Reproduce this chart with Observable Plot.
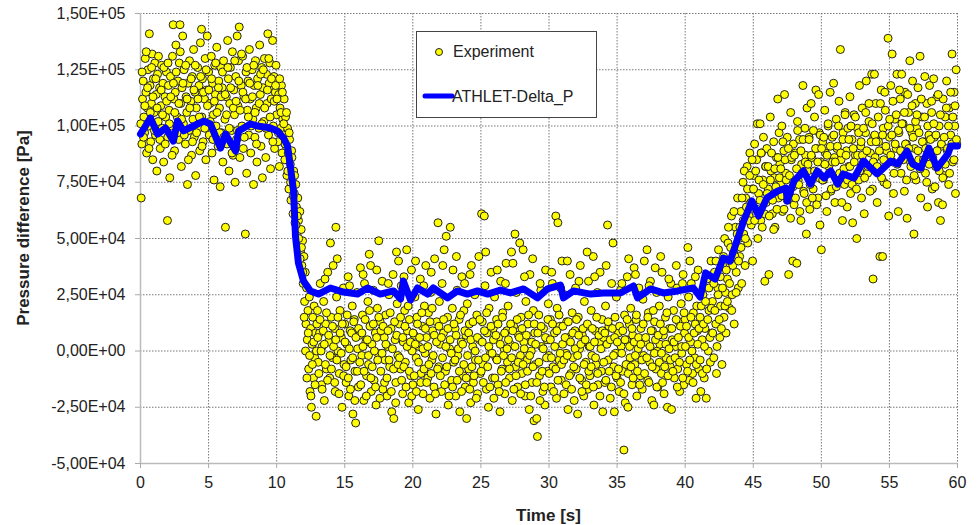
<!DOCTYPE html>
<html><head><meta charset="utf-8">
<script src="https://cdn.jsdelivr.net/npm/d3@7"></script>
<script src="https://cdn.jsdelivr.net/npm/@observablehq/plot@0.6"></script>
<style>body{margin:0;background:#fff;font-family:"Liberation Sans",Arial,sans-serif}</style>
</head><body><div id="chart"></div>
<script>
// Experiment: [time s, pressure difference kPa]
const experiment = [
[0.05,68],[0.1,92],[0.15,112],[0.2,120],[0.25,104],[0.3,97],[0.35,130],[0.4,115],[0.45,88],[0.5,108],
[0.55,125],[0.6,100],[0.65,141],[0.7,118],[0.75,93],[0.8,110],[0.85,132],[0.9,85],[0.95,121],
[1.0,106],[1.05,128],[1.1,96],[1.15,114],[1.2,80],[1.25,123],[1.3,102],[1.4,117],[1.45,90],
[1.5,109],[1.55,127],[1.6,99],[1.65,119],[1.7,84],[1.8,113],[1.85,104],[1.9,124],[1.98,58],
[2.0,95],[2.05,118],[2.1,107],[2.15,77],[2.2,122],[2.3,100],[2.35,131],[2.4,145],[2.45,112],
[2.5,89],[2.55,115],[2.6,136],[2.7,104],[2.75,120],[2.8,94],[2.85,128],[2.9,145],[2.95,110],
[3.0,82],[3.05,117],[3.1,140],[3.15,101],[3.2,125],[3.3,92],[3.35,113],[3.4,106],[3.45,74],
[3.5,119],[3.55,98],[3.6,129],[3.7,111],[3.75,87],[3.8,122],[3.85,103],[3.9,134],[3.95,95],
[4.0,115],[4.05,78],[4.1,108],[4.2,126],[4.25,99],[4.3,118],[4.35,89],[4.4,137],[4.48,143],
[4.5,104],[4.55,121],[4.6,93],[4.7,112],[4.75,130],[4.8,85],[4.85,116],[4.9,140],[4.95,101],
[5.0,124],[5.05,96],[5.1,110],[5.2,131],[5.25,88],[5.3,119],[5.35,105],[5.4,76],[5.45,127],
[5.5,114],[5.55,100],[5.6,135],[5.7,91],[5.75,120],[5.8,108],[5.85,73],[5.9,126],[5.95,97],
[6.0,117],[6.05,84],[6.1,129],[6.2,103],[6.24,55],[6.3,113],[6.35,92],[6.4,138],[6.45,121],
[6.5,80],[6.55,110],[6.6,126],[6.7,98],[6.75,133],[6.8,87],[6.85,116],[6.9,105],[6.95,75],
[7.0,122],[7.05,94],[7.1,140],[7.15,109],[7.2,129],[7.25,144],[7.3,86],[7.4,118],[7.45,100],
[7.5,131],[7.55,90],[7.6,113],[7.7,52],[7.75,124],[7.8,79],[7.85,107],[7.9,120],[7.95,96],
[8.0,134],[8.05,112],[8.1,88],[8.2,125],[8.25,103],[8.3,74],[8.35,118],[8.4,95],[8.45,129],
[8.5,108],[8.55,84],[8.6,121],[8.7,99],[8.75,136],[8.8,114],[8.85,91],[8.9,126],[8.95,77],
[9.0,117],[9.05,102],[9.1,130],[9.2,86],[9.25,123],[9.3,110],[9.35,141],[9.4,96],[9.45,119],
[9.5,128],[9.55,81],[9.6,112],[9.7,138],[9.75,100],[9.8,122],[9.85,90],[9.9,115],[9.95,127],
[10.0,105],[10.05,120],[10.1,93],[10.15,114],[10.2,82],[10.25,108],[10.3,99],[10.35,118],[10.4,88],[10.45,103],
[10.5,96],[10.55,112],[10.6,85],[10.65,104],[10.7,91],[10.75,78],[10.8,99],[10.85,88],[10.9,72],[10.95,94],
[11.0,83],[11.05,67],[11.1,89],[11.15,76],[11.2,61],[11.25,80],[11.3,70],[11.35,57],[11.4,74],[11.45,64],
[11.5,52],[11.55,68],[11.6,58],[11.65,47],[11.7,62],[11.75,44],[11.8,54],[11.85,38],[11.9,49],[11.95,30],
[12.0,42],[12.05,22],[12.1,35],[12.15,12],[12.2,28],[12.25,5],[12.3,18],[12.35,-8],[12.4,24],[12.45,-18],
[12.5,10],[12.55,-25],[12.6,3],[12.65,15],[12.7,-12],[12.75,20],[12.8,-3],[12.85,8],[12.9,-29],[12.95,12],
[13.0,18],[13.05,-5],[13.15,8],[13.2,30],[13.3,-15],[13.35,2],[13.45,22],[13.5,-22],[13.6,12],[13.65,-8],[13.75,35],[13.8,4],[13.9,-12],[13.95,48],
[14.0,15],[14.1,-3],[14.15,38],[14.25,10],[14.3,-18],[14.35,55],[14.4,24],[14.5,0],[14.6,-10],[14.65,18],[14.75,6],[14.8,-25],[14.9,28],[14.95,-6],
[15.0,12],[15.1,-14],[15.15,3],[15.25,33],[15.3,-20],[15.4,9],[15.45,-4],[15.55,20],[15.6,-28],[15.7,14],[15.75,-9],[15.8,-32],[15.9,26],[15.95,1],
[16.0,-16],[16.1,7],[16.15,37],[16.25,-2],[16.3,16],[16.4,-22],[16.45,30],[16.55,4],[16.6,-11],[16.7,22],[16.75,-6],[16.85,11],[16.9,38],[16.95,-18],
[17.0,3],[17.1,27],[17.15,-13],[17.25,8],[17.3,-24],[17.4,19],[17.45,-1],[17.5,49],[17.6,13],[17.65,-9],[17.75,31],[17.8,-17],[17.9,6],[17.95,-4],
[18.0,16],[18.1,-20],[18.15,2],[18.25,25],[18.3,-7],[18.4,10],[18.45,-27],[18.55,34],[18.6,-30],[18.7,5],[18.75,-14],[18.85,21],[18.9,-2],[18.95,40],
[19.0,12],[19.1,-8],[19.15,29],[19.25,-19],[19.3,4],[19.4,18],[19.45,-5],[19.55,45],[19.6,9],[19.7,-23],[19.75,14],[19.85,-11],[19.9,36],[19.95,0],
[20.0,-15],[20.1,7],[20.15,24],[20.25,-3],[20.3,15],[20.4,-26],[20.45,2],[20.55,32],[20.6,-10],[20.7,11],[20.75,-19],[20.85,20],[20.9,-1],[20.95,38],
[21.0,6],[21.1,-12],[21.15,17],[21.25,-21],[21.3,26],[21.4,-4],[21.45,9],[21.55,-16],[21.6,41],[21.7,-28],[21.75,13],[21.85,57],[21.9,-7],[21.95,22],
[22.0,3],[22.1,-18],[22.15,30],[22.25,8],[22.3,45],[22.4,-9],[22.45,51],[22.55,15],[22.6,-24],[22.7,1],[22.75,55],[22.85,-13],[22.9,19],[22.95,36],
[23.0,-5],[23.1,10],[23.15,-20],[23.25,27],[23.3,-2],[23.4,14],[23.45,-27],[23.55,4],[23.6,33],[23.7,-11],[23.75,18],[23.85,-16],[23.9,7],[23.95,-30],
[24.0,21],[24.1,-8],[24.15,12],[24.25,-23],[24.3,38],[24.4,2],[24.45,-14],[24.55,25],[24.6,-4],[24.7,16],[24.75,-19],[24.85,42],[24.9,5],[24.95,-10],
[25.05,61],[25.1,13],[25.15,-6],[25.25,60],[25.3,29],[25.4,-17],[25.45,8],[25.55,-25],[25.6,19],[25.7,-1],[25.75,35],[25.85,-12],[25.9,10],[25.95,-21],
[26.0,24],[26.1,-3],[26.15,14],[26.25,-15],[26.3,6],[26.4,-27],[26.45,31],[26.55,-8],[26.6,17],[26.7,1],[26.75,-19],[26.85,39],[26.9,9],[26.95,-5],
[27.0,20],[27.1,-12],[27.15,3],[27.25,44],[27.3,-22],[27.4,11],[27.5,52],[27.55,-7],[27.6,26],[27.7,-16],[27.75,7],[27.85,48],[27.9,-2],[27.95,15],
[28.0,-10],[28.1,45],[28.15,4],[28.25,-20],[28.3,22],[28.4,-4],[28.45,12],[28.55,-26],[28.6,34],[28.7,0],[28.75,-14],[28.85,18],[28.9,-31],[28.95,8],
[29.0,-6],[29.1,-30],[29.15,-38],[29.25,16],[29.3,-11],[29.4,27],[29.45,2],[29.55,-18],[29.6,10],[29.7,-24],[29.75,36],[29.85,5],[29.9,-9],[29.95,21],
[30.0,-2],[30.1,14],[30.15,-16],[30.25,30],[30.3,-7],[30.4,8],[30.5,60],[30.55,-21],[30.6,19],[30.65,57],[30.75,-4],[30.8,11],[30.9,-13],[30.95,40],
[31.0,3],[31.1,-19],[31.15,25],[31.25,-1],[31.3,13],[31.4,-26],[31.45,6],[31.55,34],[31.6,-10],[31.7,17],[31.75,-3],[31.85,-22],[31.9,9],[31.95,28],
[32.0,-8],[32.1,-28],[32.15,15],[32.25,1],[32.3,38],[32.4,-13],[32.45,7],[32.55,-20],[32.6,22],[32.7,-5],[32.75,11],[32.85,-17],[32.9,31],[32.95,2],
[33.0,-11],[33.1,18],[33.15,-2],[33.25,42],[33.3,-24],[33.4,9],[33.45,-6],[33.55,26],[33.6,-15],[33.7,4],[33.75,35],[33.85,-9],[33.9,14],[33.95,-27],
[34.0,6],[34.1,-14],[34.15,20],[34.3,56],[34.35,-4],[34.4,11],[34.5,-21],[34.6,30],[34.7,48],[34.75,-7],[34.8,-27],[34.85,15],[34.9,-1],[34.95,24],
[35.0,-12],[35.1,8],[35.15,-18],[35.25,27],[35.3,2],[35.4,-9],[35.5,-44],[35.55,16],[35.6,-23],[35.7,5],[35.75,33],[35.8,-25],[35.9,12],[35.95,-3],
[36.0,19],[36.1,-15],[36.15,7],[36.25,37],[36.3,-6],[36.4,14],[36.45,-20],[36.55,1],[36.6,28],[36.7,-11],[36.75,10],[36.85,-17],[36.9,23],[36.95,-2],
[37.0,40],[37.1,4],[37.2,45],[37.25,-13],[37.3,17],[37.4,-5],[37.45,31],[37.55,-22],[37.6,9],[37.7,-24],[37.75,13],[37.85,-8],[37.9,26],[37.95,0],
[38.0,-16],[38.1,20],[38.15,3],[38.25,-10],[38.3,35],[38.4,7],[38.45,-19],[38.55,15],[38.6,-3],[38.7,-25],[38.75,24],[38.85,10],[38.9,-7],[38.95,30],
[39.0,-26],[39.05,5],[39.15,18],[39.2,-12],[39.3,2],[39.4,28],[39.45,-8],[39.55,13],[39.6,-18],[39.7,21],[39.75,-1],[39.85,34],[39.9,-15],[39.95,8],
[40.0,14],[40.1,-6],[40.2,46],[40.25,24],[40.3,-13],[40.4,4],[40.45,30],[40.55,-10],[40.6,17],[40.7,-3],[40.8,-21],[40.85,20],[40.9,9],[40.95,36],
[41.0,-8],[41.1,15],[41.15,-18],[41.25,5],[41.3,25],[41.4,-12],[41.45,10],[41.55,-21],[41.6,32],[41.7,0],[41.75,18],[41.85,-5],[41.9,40],[41.95,8],
[42.0,22],[42.1,-3],[42.15,35],[42.25,12],[42.3,-10],[42.4,28],[42.45,45],[42.55,6],[42.6,20],[42.7,-6],[42.75,38],[42.85,15],[42.9,50],[42.95,26],
[43.0,8],[43.1,32],[43.15,48],[43.25,19],[43.3,40],[43.4,60],[43.45,25],[43.55,44],[43.6,12],[43.7,55],[43.75,35],[43.85,68],[43.9,28],[43.95,50],
[44.0,42],[44.1,62],[44.15,30],[44.25,75],[44.3,52],[44.4,38],[44.45,68],[44.55,82],[44.6,48],[44.7,60],[44.75,88],[44.85,56],[44.9,72],[44.95,40],
[45.0,78],[45.1,92],[45.15,63],[45.25,85],[45.3,101],[45.4,70],[45.5,101],[45.55,58],[45.6,88],[45.7,76],[45.75,95],[45.85,31],[45.9,82],[45.95,66],
[46.0,90],[46.1,72],[46.15,34],[46.25,104],[46.3,80],[46.4,61],[46.5,93],[46.55,77],[46.6,55],[46.7,86],[46.8,112],[46.85,68],[46.9,97],[46.95,83],
[47.0,74],[47.1,100],[47.15,62],[47.25,89],[47.3,114],[47.4,79],[47.5,95],[47.6,34],[47.65,70],[47.75,106],[47.8,85],[47.9,40],[47.95,92],
[48.0,65],[48.1,88],[48.2,39],[48.25,102],[48.3,76],[48.4,94],[48.5,58],[48.55,83],[48.65,118],[48.7,71],[48.8,99],[48.85,87],[48.9,52],[48.95,108],
[49.0,80],[49.1,95],[49.15,63],[49.25,110],[49.3,86],[49.4,72],[49.5,104],[49.6,116],[49.65,90],[49.75,68],[49.8,114],[49.85,97],[49.9,56],[49.95,84],
[50.0,45],[50.1,93],[50.15,76],[50.25,107],[50.3,88],[50.4,62],[50.5,100],[50.55,82],[50.65,115],[50.7,71],[50.8,95],[50.9,119],[50.95,86],
[51.0,66],[51.1,103],[51.15,90],[51.25,78],[51.3,111],[51.4,134],[51.45,85],[51.55,58],[51.6,97],[51.7,74],[51.75,106],[51.85,89],[51.9,64],[51.95,99],
[52.0,82],[52.1,113],[52.15,70],[52.25,94],[52.3,57],[52.4,105],[52.5,87],[52.6,50],[52.65,99],[52.75,76],[52.8,118],[52.9,91],[52.95,68],
[53.0,108],[53.1,84],[53.15,61],[53.25,97],[53.3,120],[53.4,79],[53.5,102],[53.6,88],[53.7,123],[53.75,72],[53.8,32],[53.85,95],[53.9,123],[53.95,86],
[54.0,110],[54.1,66],[54.2,93],[54.3,42],[54.35,81],[54.4,116],[54.5,42],[54.55,99],[54.6,75],[54.7,107],[54.8,89],[54.9,139],[54.95,60],
[55.0,95],[55.1,118],[55.2,132],[55.25,84],[55.3,70],[55.4,103],[55.5,90],[55.55,123],[55.65,62],[55.7,97],[55.8,112],[55.85,79],[55.9,123],[55.95,88],
[56.0,101],[56.1,71],[56.15,115],[56.25,92],[56.3,59],[56.4,106],[56.5,129],[56.55,84],[56.65,97],[56.7,120],[56.8,52],[56.85,90],[56.9,110],[56.95,76],
[57.0,99],[57.1,117],[57.15,85],[57.25,131],[57.3,68],[57.4,104],[57.5,93],[57.6,122],[57.65,79],[57.75,110],[57.8,64],[57.9,96],[57.95,118],
[58.0,87],[58.1,106],[58.15,72],[58.25,121],[58.3,95],[58.4,82],[58.5,113],[58.6,66],[58.65,100],[58.75,58],[58.8,91],[58.9,65],[58.95,112],
[59.0,78],[59.1,104],[59.2,120],[59.25,89],[59.35,74],[59.4,108],[59.5,96],[59.6,132],[59.65,84],[59.75,115],[59.8,100],[59.85,70],[59.9,125],[59.95,92]
];

// Experiment, further samples read from the denser parts of the cloud: [time s, kPa]
const experimentDense = [
[0.02,101],[0.12,124],[0.22,95],[0.32,109],[0.42,133],[0.52,117],[0.62,90],[0.72,106],[0.82,126],[0.92,113],
[1.02,98],[1.12,121],[1.22,108],[1.32,131],[1.42,94],[1.52,116],[1.62,105],[1.72,126],[1.82,92],[1.92,111],
[2.02,128],[2.12,101],[2.22,113],[2.32,87],[2.42,119],[2.52,106],[2.62,124],[2.72,97],[2.82,110],[2.92,133],
[3.02,103],[3.12,119],[3.22,96],[3.32,127],[3.42,112],[3.52,85],[3.62,108],[3.72,121],[3.82,93],[3.92,116],
[4.02,127],[4.12,97],[4.22,112],[4.32,104],[4.42,122],[4.52,91],[4.62,115],[4.72,99],[4.82,125],[4.92,109],
[5.02,116],[5.12,102],[5.22,121],[5.32,94],[5.42,111],[5.52,128],[5.62,106],[5.72,117],[5.82,97],[5.92,113],
[6.02,124],[6.12,95],[6.22,114],[6.32,105],[6.42,126],[6.52,99],[6.62,117],[6.72,88],[6.82,108],[6.92,129],
[7.02,111],[7.12,98],[7.22,120],[7.32,107],[7.42,132],[7.52,115],[7.62,95],[7.72,112],[7.82,126],[7.92,104],
[8.02,119],[8.12,100],[8.22,113],[8.32,127],[8.42,106],[8.52,92],[8.62,118],[8.72,110],[8.82,123],[8.92,101],
[9.02,125],[9.12,108],[9.22,99],[9.32,116],[9.42,130],[9.52,104],[9.62,121],[9.72,93],[9.82,111],[9.92,118],
[10.02,112],[10.12,97],[10.22,121],[10.32,106],[10.42,115],
[10.52,101],[10.62,92],[10.72,106],[10.82,80],[10.92,97],[11.02,75],[11.12,86],[11.22,69],[11.32,78],[11.42,56],
[11.52,60],[11.62,50],[11.72,41],[11.82,46],[11.92,35],[12.02,15],[12.12,0],[12.22,-12],[12.32,8],[12.42,-2],
[12.52,-20],[12.62,-6],[12.72,4],[12.82,-15],[12.92,0],
[13.02,6],[13.1,-10],[13.18,14],[13.26,0],[13.34,-17],[13.42,9],[13.5,3],[13.58,-6],[13.66,17],[13.74,-13],[13.82,7],[13.92,-2],
[14.02,-8],[14.1,11],[14.18,2],[14.26,-14],[14.34,5],[14.42,-4],[14.5,15],[14.58,-19],[14.66,8],[14.74,-1],[14.82,12],[14.92,-11],
[15.02,4],[15.1,-7],[15.18,16],[15.26,-12],[15.34,1],[15.42,-17],[15.5,8],[15.58,-3],[15.66,13],[15.74,-22],[15.82,6],[15.92,-9],
[16.02,10],[16.1,-5],[16.18,-15],[16.26,8],[16.34,2],[16.42,-9],[16.5,14],[16.58,-20],[16.66,5],[16.74,-2],[16.82,18],[16.92,-12],
[17.02,-7],[17.1,12],[17.18,0],[17.26,-16],[17.34,6],[17.42,-4],[17.5,15],[17.58,-21],[17.66,9],[17.74,-1],[17.82,11],[17.92,-14],
[18.02,3],[18.1,-12],[18.18,9],[18.26,-4],[18.34,17],[18.42,-18],[18.5,1],[18.58,-8],[18.66,13],[18.74,-23],[18.82,7],[18.92,-6],
[19.02,-3],[19.1,15],[19.18,-13],[19.26,6],[19.34,-7],[19.42,11],[19.5,-16],[19.58,2],[19.66,20],[19.74,-9],[19.82,4],[19.92,-20],
[20.02,8],[20.1,-11],[20.18,3],[20.26,-18],[20.34,12],[20.42,-5],[20.5,6],[20.58,-14],[20.66,17],[20.74,1],[20.82,-8],[20.92,10],
[21.02,-14],[21.1,2],[21.18,-6],[21.26,13],[21.34,-10],[21.42,19],[21.5,-2],[21.58,7],[21.66,-19],[21.74,4],[21.82,-8],[21.92,11],
[22.02,-11],[22.1,6],[22.18,-3],[22.26,14],[22.34,-15],[22.42,2],[22.5,-7],[22.58,10],[22.66,-20],[22.74,5],[22.82,-1],[22.92,-16],
[23.02,12],[23.1,-4],[23.18,7],[23.26,-13],[23.34,1],[23.42,-9],[23.5,16],[23.58,-18],[23.66,3],[23.74,-6],[23.82,9],[23.92,-12],
[24.02,-2],[24.1,8],[24.18,-17],[24.26,5],[24.34,-7],[24.42,13],[24.5,-11],[24.58,0],[24.66,-21],[24.74,6],[24.82,-4],[24.92,14],
[25.02,-9],[25.1,4],[25.18,-14],[25.26,9],[25.34,-3],[25.42,17],[25.5,-7],[25.58,2],[25.66,-16],[25.74,11],[25.82,-1],[25.92,5],
[26.02,-12],[26.1,7],[26.18,-4],[26.26,12],[26.34,-18],[26.42,3],[26.5,-9],[26.58,15],[26.66,-2],[26.74,8],[26.82,-14],[26.92,1],
[27.02,5],[27.1,-8],[27.18,12],[27.26,-3],[27.34,9],[27.42,-17],[27.5,2],[27.58,-11],[27.66,14],[27.74,-5],[27.82,6],[27.92,-19],
[28.02,10],[28.1,-6],[28.18,1],[28.26,-15],[28.34,7],[28.42,-9],[28.5,16],[28.58,-2],[28.66,-20],[28.74,4],[28.82,-7],[28.92,12],
[29.02,3],[29.1,-14],[29.18,8],[29.26,-5],[29.34,-22],[29.42,11],[29.5,-9],[29.58,1],[29.66,-16],[29.74,6],[29.82,-3],[29.92,14],
[30.02,-10],[30.1,5],[30.18,-3],[30.26,12],[30.34,-18],[30.42,2],[30.5,-8],[30.58,9],[30.66,-13],[30.74,16],[30.82,-1],[30.92,-6],
[31.02,11],[31.1,-4],[31.18,6],[31.26,-15],[31.34,-2],[31.42,13],[31.5,-11],[31.58,4],[31.66,-17],[31.74,8],[31.82,-7],[31.92,1],
[32.02,14],[32.1,-2],[32.18,7],[32.26,-12],[32.34,3],[32.42,-18],[32.5,10],[32.58,-6],[32.66,5],[32.74,-15],[32.82,12],[32.92,-9],
[33.02,2],[33.1,-7],[33.18,10],[33.26,-16],[33.34,4],[33.42,-3],[33.5,15],[33.58,-10],[33.66,7],[33.74,-20],[33.82,1],[33.92,9],
[34.02,-5],[34.1,8],[34.18,-13],[34.26,3],[34.34,13],[34.42,-9],[34.5,5],[34.58,-16],[34.66,10],[34.74,-2],[34.82,6],[34.92,-11],
[35.02,4],[35.1,-8],[35.18,11],[35.26,-14],[35.34,-1],[35.42,9],[35.5,-19],[35.58,5],[35.66,-6],[35.74,14],[35.82,-10],[35.92,2],
[36.02,-7],[36.1,10],[36.18,-12],[36.26,4],[36.34,-2],[36.42,16],[36.5,-9],[36.58,6],[36.66,-15],[36.74,3],[36.82,-4],[36.92,12],
[37.02,-10],[37.1,6],[37.18,-3],[37.26,15],[37.34,-14],[37.42,2],[37.5,9],[37.58,-7],[37.66,18],[37.74,-1],[37.82,5],[37.92,-16],
[38.02,7],[38.1,-5],[38.18,12],[38.26,-1],[38.34,-14],[38.42,9],[38.5,-7],[38.58,3],[38.66,17],[38.74,-11],[38.82,1],[38.92,-4],
[39.02,10],[39.1,-9],[39.18,4],[39.26,-3],[39.34,14],[39.42,-16],[39.5,6],[39.58,-5],[39.66,11],[39.74,2],[39.82,-12],[39.92,17],
[40.02,2],[40.1,11],[40.18,-9],[40.26,6],[40.34,-4],[40.42,15],[40.5,0],[40.58,-14],[40.66,8],[40.74,12],[40.82,-6],[40.92,3],
[41.02,10],[41.1,-4],[41.18,20],[41.26,-10],[41.34,12],[41.42,2],[41.5,22],[41.58,-8],[41.66,14],[41.74,28],[41.82,6],[41.92,19],
[42.02,8],[42.1,30],[42.18,18],[42.26,40],[42.34,2],[42.42,25],[42.5,14],[42.58,33],[42.66,10],[42.74,28],[42.82,42],[42.92,20],
[43.02,36],[43.1,22],[43.18,55],[43.26,30],[43.34,46],[43.42,18],[43.5,38],[43.58,62],[43.66,42],[43.74,26],[43.82,52],[43.92,40],
[44.02,55],[44.1,46],[44.18,68],[44.26,58],[44.34,80],[44.42,50],[44.5,64],[44.58,72],[44.66,58],[44.74,78],[44.82,66],[44.92,85],
[45.02,72],[45.1,58],[45.18,80],[45.26,63],[45.34,50],[45.42,76],[45.5,67],[45.58,88],[45.66,55],[45.74,74],[45.82,61],[45.92,82],
[46.02,70],[46.1,82],[46.18,60],[46.26,76],[46.34,88],[46.42,67],[46.5,54],[46.58,81],[46.66,73],[46.74,63],[46.82,86],[46.92,77],
[47.02,81],[47.1,69],[47.18,93],[47.26,63],[47.34,85],[47.42,76],[47.5,67],[47.58,90],[47.66,78],[47.74,59],[47.82,86],[47.92,73],
[48.02,87],[48.1,68],[48.18,81],[48.26,98],[48.34,74],[48.42,62],[48.5,89],[48.58,79],[48.66,94],[48.74,70],[48.82,84],[48.92,66],
[49.02,83],[49.1,94],[49.18,74],[49.26,87],[49.34,68],[49.42,98],[49.5,80],[49.58,90],[49.66,65],[49.74,84],[49.82,77],[49.92,96],
[50.02,90],[50.1,76],[50.18,95],[50.26,83],[50.34,69],[50.42,87],[50.5,101],[50.58,79],[50.66,91],[50.74,72],[50.82,84],[50.92,96],
[51.02,84],[51.1,73],[51.18,91],[51.26,100],[51.34,79],[51.42,88],[51.5,66],[51.58,94],[51.66,81],[51.74,105],[51.82,87],[51.92,76],
[52.02,94],[52.1,82],[52.18,100],[52.26,74],[52.34,90],[52.42,84],[52.5,104],[52.58,72],[52.66,87],[52.74,97],[52.82,80],[52.92,93],
[53.02,87],[53.1,99],[53.18,77],[53.26,106],[53.34,89],[53.42,82],[53.5,110],[53.58,71],[53.66,93],[53.74,101],[53.82,84],[53.92,96],
[54.02,93],[54.1,82],[54.18,104],[54.26,89],[54.34,110],[54.42,77],[54.5,96],[54.58,85],[54.66,115],[54.74,91],[54.82,74],[54.92,100],
[55.02,103],[55.1,87],[55.18,96],[55.26,111],[55.34,79],[55.42,92],[55.5,105],[55.58,83],[55.66,98],[55.74,116],[55.82,89],[55.92,101],
[56.02,85],[56.1,106],[56.18,92],[56.26,76],[56.34,114],[56.42,90],[56.5,99],[56.58,82],[56.66,109],[56.74,95],[56.82,78],[56.92,102],
[57.02,105],[57.1,89],[57.18,97],[57.26,81],[57.34,112],[57.42,93],[57.5,85],[57.58,104],[57.66,90],[57.74,75],[57.82,100],[57.92,83],
[58.02,94],[58.1,111],[58.18,86],[58.26,101],[58.34,73],[58.42,96],[58.5,89],[58.58,114],[58.66,80],[58.74,105],[58.82,92],[58.92,77],
[59.02,95],[59.1,83],[59.18,108],[59.26,90],[59.34,100],[59.42,79],[59.5,115],[59.58,92],[59.66,104],[59.74,85],[59.82,109],[59.92,94]
];

// Experiment, samples above the model line in the plateau: [time s, kPa]
const experimentUpper = [
[13.55,32],[14.45,41],[15.35,29],[16.35,34],[16.8,43],[17.35,36],[18.2,30],[18.8,44],[19.35,33],[20.2,40],
[20.8,29],[21.35,35],[22.2,38],[23.2,42],[23.8,30],[24.2,34],[25.35,44],[26.2,36],[26.8,30],[27.35,39],
[28.2,33],[28.8,41],[29.35,30],[30.2,35],[30.85,28],[31.35,40],[32.2,31],[32.8,44],[33.35,33],[34.2,38],
[35.35,30],[35.85,41],[36.35,34],[37.35,29],[37.8,37],[38.2,42],[38.8,32],[39.35,38],[39.8,30],[40.35,40],[40.75,33]
];

// ATHLET-Delta_P: [time s, pressure difference kPa]
const athlet = [
[0,96.4],[0.37,100],[0.73,103.6],[1.25,96.4],[1.84,99.1],[2.42,93.3],[2.72,102.2],[3.16,97.8],[3.89,100],
[4.63,102.2],[5.14,100.9],[5.65,93.3],[5.88,90.2],[6.24,96.4],[6.98,88.9],[7.2,97.8],[8.08,100.9],[8.59,100],
[9.55,99.1],[10.06,97.8],[10.5,94.7],[10.8,91.1],[11.0,82.2],[11.24,71.1],[11.38,51.1],[11.6,39.1],[11.97,31.1],
[12.48,26.7],[13.07,25.3],[13.95,28],[14.9,26.2],[15.94,25.3],[16.67,28],[17.6,25.3],[18.58,26.7],[19.1,23.1],
[19.3,31.1],[19.83,22.7],[20.34,28],[21.08,25.3],[21.5,28],[22.55,23.6],[23.28,26.7],[24.0,25.3],[24.75,26.7],
[25.5,25.3],[26.44,27.1],[27.17,25.8],[28.13,27.6],[29.15,23.6],[29.89,27.6],[30.84,29.3],[31.06,23.6],[31.8,26.7],
[33.05,25.3],[34.0,25.8],[35.25,25.8],[36.2,28.9],[36.5,23.6],[37.45,27.6],[38.4,25.8],[39.44,26.7],[40.6,28],
[41.1,24],[41.5,34.7],[42.2,32],[42.8,41.3],[43.3,40],[44.3,57.8],[44.9,66.7],[45.4,60],[46.0,68],[46.8,71.1],
[47.4,72.4],[47.5,66.7],[48.0,75.6],[48.7,80],[49.2,74.2],[49.7,80],[50.2,76.9],[50.7,80],[51.2,74.2],[51.6,78.7],
[52.4,76.9],[53.1,84.4],[54.1,78.7],[55.1,84.4],[55.6,83.1],[56.3,88.9],[56.7,83.1],[57.3,81.3],[57.9,90.2],
[58.5,81.3],[59.3,87.6],[59.5,91.1],[60,91.1]
];

const xTicks = [0,5,10,15,20,25,30,35,40,45,50,55,60];
const yTicks = [-50000,-25000,0,25000,50000,75000,100000,125000,150000];
const seriesNames = ["Experiment","ATHLET-Delta_P"];

const fmt = v => {
  let [m, e] = v.toExponential(2).split("e");
  const sign = e[0] === "-" ? "-" : "+";
  e = e.replace(/^[+-]/, "").padStart(2, "0");
  return m.replace(".", ",") + "E" + sign + e;
};

const expData = experiment.concat(experimentDense, experimentUpper).map(([t, p]) => ({t, p: p * 1000}));
const athData = athlet.map(([t, p]) => ({t, p: p * 1000}));

const W = 977, H = 525, mL = 140, mR = 20, mT = 13, mB = 62;

const chart = Plot.plot({
  width: W, height: H,
  marginLeft: mL, marginRight: mR, marginTop: mT, marginBottom: mB,
  x: {domain: [0, 60]},
  y: {domain: [-50000, 150000]},
  style: {fontFamily: "'Liberation Sans', Arial, sans-serif", fontSize: "16px", color: "#222", background: "#fff"},
  marks: [
    Plot.gridX(xTicks, {stroke: "#777", strokeOpacity: 1, strokeWidth: 1, strokeDasharray: "1.5,1.5"}),
    Plot.gridY(yTicks, {stroke: "#777", strokeOpacity: 1, strokeWidth: 1, strokeDasharray: "1.5,1.5"}),
    Plot.ruleX([0], {stroke: "#bbb", strokeWidth: 1.5}),
    Plot.ruleY([-50000], {stroke: "#bbb", strokeWidth: 1.5}),
    Plot.axisX({ticks: xTicks, tickSize: 5, tickPadding: 8, stroke: "#aaa", label: null, fill: "#222"}),
    Plot.axisY({ticks: yTicks, tickSize: 5, tickPadding: 10, stroke: "#aaa", label: null, tickFormat: fmt, fill: "#222"}),
    Plot.dot(expData, {x: "t", y: "p", r: 4, fill: "#ffff00", stroke: "#222", strokeWidth: 1}),
    Plot.line(athData, {x: "t", y: "p", stroke: "#0000ff", strokeWidth: 7, strokeLinejoin: "round"})
  ]
});

document.getElementById("chart").appendChild(chart);

const svg = d3.select(chart);
// axis titles
svg.append("text")
  .attr("transform", `translate(29,${(mT + H - mB) / 2 - 10}) rotate(-90)`)
  .attr("text-anchor", "middle")
  .attr("font-weight", "bold").attr("font-size", 17).attr("fill", "#222")
  .text("Pressure difference [Pa]");
svg.append("text")
  .attr("x", (mL + W - mR) / 2).attr("y", 521)
  .attr("text-anchor", "middle")
  .attr("font-weight", "bold").attr("font-size", 17).attr("fill", "#222")
  .text("Time [s]");

// legend
const lg = svg.append("g").attr("text-anchor", "start");
lg.append("rect").attr("x", 416.5).attr("y", 31.5).attr("width", 180).attr("height", 86)
  .attr("fill", "#fff").attr("stroke", "#444").attr("stroke-width", 1);
lg.append("circle").attr("cx", 439).attr("cy", 52).attr("r", 3.5)
  .attr("fill", "#ffff00").attr("stroke", "#222");
lg.append("text").attr("x", 453).attr("y", 57).attr("text-anchor", "start")
  .attr("font-size", 16).attr("fill", "#222").text(seriesNames[0]);
lg.append("line").attr("x1", 425).attr("x2", 452).attr("y1", 96).attr("y2", 96)
  .attr("stroke", "#0000ff").attr("stroke-width", 5).attr("stroke-linecap", "round");
lg.append("text").attr("x", 452).attr("y", 102).attr("text-anchor", "start")
  .attr("font-size", 16).attr("fill", "#222").text(seriesNames[1]);
</script>
</body></html>
